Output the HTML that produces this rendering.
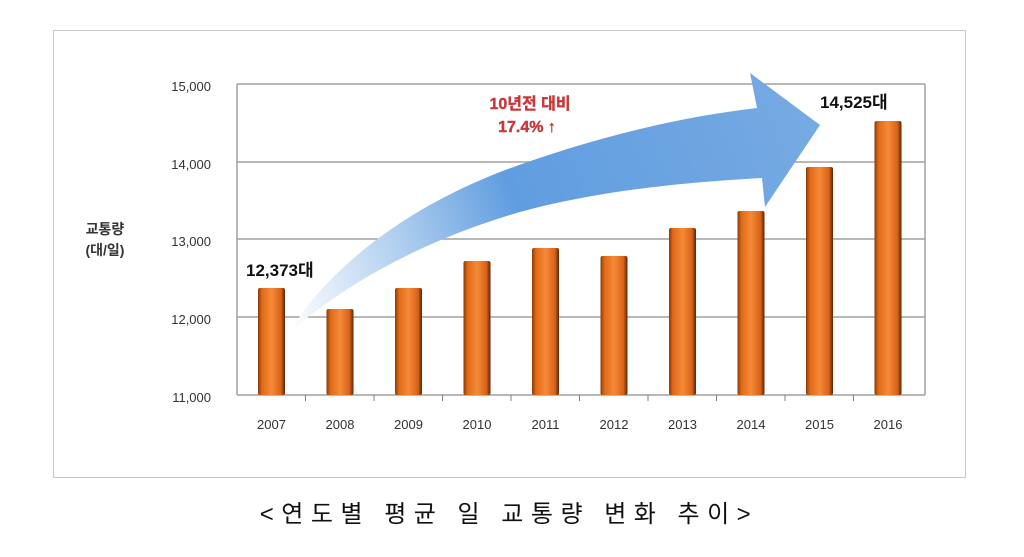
<!DOCTYPE html>
<html><head><meta charset="utf-8"><style>
html,body{margin:0;padding:0;background:#fff;}
svg{display:block;}
text{font-family:"Liberation Sans","Noto Sans CJK KR",sans-serif;}
</style></head><body>
<svg width="1024" height="557" viewBox="0 0 1024 557" xmlns="http://www.w3.org/2000/svg">
<defs>
<linearGradient id="bar" x1="0" x2="1" y1="0" y2="0">
<stop offset="0" stop-color="#8a3a08"/>
<stop offset="0.15" stop-color="#e06a18"/>
<stop offset="0.5" stop-color="#f68a38"/>
<stop offset="0.85" stop-color="#d8621a"/>
<stop offset="1" stop-color="#5a2505"/>
</linearGradient>
<linearGradient id="arr" gradientUnits="userSpaceOnUse" x1="290" y1="330" x2="820" y2="125">
<stop offset="0" stop-color="#ffffff"/>
<stop offset="0.25" stop-color="#aacbee"/>
<stop offset="0.45" stop-color="#609de0"/>
<stop offset="1" stop-color="#76aae2"/>
</linearGradient>
</defs>
<rect x="53.5" y="30.5" width="912" height="447" fill="#fff" stroke="#c8c8c8"/>
<g stroke="#a0a0a0" stroke-width="1.5">
<line x1="237" y1="84" x2="925" y2="84"/>
<line x1="237" y1="162" x2="925" y2="162"/>
<line x1="237" y1="239" x2="925" y2="239"/>
<line x1="237" y1="317" x2="925" y2="317"/>
<line x1="237" y1="84" x2="237" y2="395"/>
<line x1="925" y1="84" x2="925" y2="395"/>
<line x1="237" y1="395" x2="925" y2="395"/>
</g>
<g stroke="#808080" stroke-width="1">
<line x1="305.5" y1="395" x2="305.5" y2="401"/><line x1="374" y1="395" x2="374" y2="401"/><line x1="442.5" y1="395" x2="442.5" y2="401"/><line x1="511" y1="395" x2="511" y2="401"/><line x1="579.5" y1="395" x2="579.5" y2="401"/><line x1="648" y1="395" x2="648" y2="401"/><line x1="716.5" y1="395" x2="716.5" y2="401"/><line x1="785" y1="395" x2="785" y2="401"/><line x1="853.5" y1="395" x2="853.5" y2="401"/>
</g>
<g fill="url(#bar)">
<rect x="258" y="288" width="27" height="107" rx="2"/>
<rect x="326.5" y="309" width="27" height="86" rx="2"/>
<rect x="395" y="288" width="27" height="107" rx="2"/>
<rect x="463.5" y="261" width="27" height="134" rx="2"/>
<rect x="532" y="248" width="27" height="147" rx="2"/>
<rect x="600.5" y="256" width="27" height="139" rx="2"/>
<rect x="669" y="228" width="27" height="167" rx="2"/>
<rect x="737.5" y="211" width="27" height="184" rx="2"/>
<rect x="806" y="167" width="27" height="228" rx="2"/>
<rect x="874.5" y="121" width="27" height="274" rx="2"/>
</g>
<path d="M290,332 C320,280 390,215 500,172 C580,142 670,118 757,108 L750,73 L820,125 L765,207 L762,178 C690,182 600,190 520,212 C430,238 350,280 290,332 Z" fill="url(#arr)"/>
<g font-size="13" fill="#333" text-anchor="end">
<text x="211" y="91">15,000</text>
<text x="211" y="169">14,000</text>
<text x="211" y="246">13,000</text>
<text x="211" y="324">12,000</text>
<text x="211" y="402">11,000</text>
</g>
<g font-size="13" fill="#333" text-anchor="middle">
<text x="271.5" y="429">2007</text><text x="340" y="429">2008</text><text x="408.5" y="429">2009</text><text x="477" y="429">2010</text><text x="545.5" y="429">2011</text><text x="614" y="429">2012</text><text x="682.5" y="429">2013</text><text x="751" y="429">2014</text><text x="819.5" y="429">2015</text><text x="888" y="429">2016</text>
</g>
<g font-size="14" font-weight="bold" fill="#333" text-anchor="middle">
<text x="105" y="234">교통량</text>
<text x="105" y="255">(대/일)</text>
</g>
<text x="246" y="276" font-size="17" font-weight="bold" fill="#111">12,373대</text>
<text x="820" y="108" font-size="17" font-weight="bold" fill="#111">14,525대</text>
<g font-size="16" font-weight="bold" fill="#c8383a" text-anchor="middle" stroke="#c8383a" stroke-width="0.4">
<text x="530" y="109">10년전 대비</text>
<text x="527" y="132">17.4% ↑</text>
</g>
<text x="509" y="522" font-size="24" fill="#111" text-anchor="middle" letter-spacing="7.5">&lt;연도별 평균 일 교통량 변화 추이&gt;</text>
</svg>
</body></html>
